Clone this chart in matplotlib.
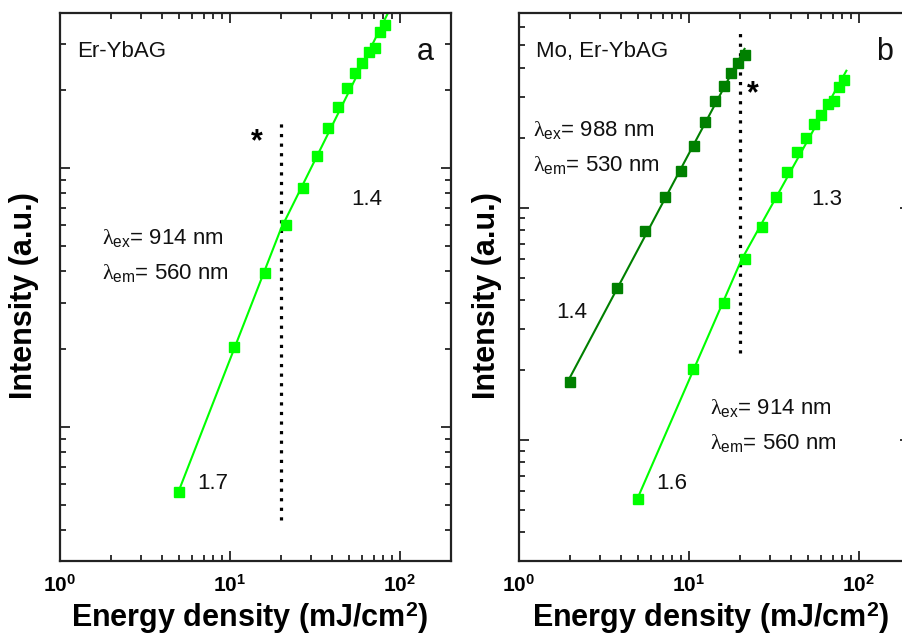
import numpy as np
import matplotlib
matplotlib.use("Agg")
import matplotlib.pyplot as plt
import matplotlib.transforms as mtransforms
from matplotlib.ticker import LogLocator, NullFormatter, FixedLocator

plt.rcParams['font.family'] = ['Liberation Sans', 'DejaVu Sans']
plt.rcParams['mathtext.fontset'] = 'custom'
plt.rcParams['mathtext.rm'] = 'Liberation Sans'
plt.rcParams['mathtext.bf'] = 'Liberation Sans:bold'
plt.rcParams['mathtext.it'] = 'Liberation Serif'

# ---------------- data ----------------
# panel a: Er-YbAG, excitation 914 nm, emission 560 nm
xa = [5, 10.5, 16, 21.5, 27, 32.5, 38, 43.5, 49, 54.5, 60, 65.5, 71, 76.5, 82]
ya = [0.56, 2.04, 3.93, 6.03, 8.37, 11.1, 14.3, 17.2, 20.4, 23.3, 25.4, 28.1, 29.0, 33.5, 35.7]

# panel b: Mo, Er-YbAG
xb_dark = [2, 3.75, 5.5, 7.25, 9, 10.75, 12.5, 14.25, 16, 17.75, 19.5, 21.25]
yb_dark = [1.78, 4.52, 7.96, 11.1, 14.4, 18.5, 23.5, 28.9, 33.6, 38.2, 42.2, 45.6]
xb_light = [5, 10.5, 16, 21.5, 27, 32.5, 38, 43.5, 49, 54.5, 60, 65.5, 71, 76.5, 82]
yb_light = [0.557, 2.02, 3.90, 6.03, 8.28, 11.1, 14.3, 17.3, 20.0, 23.0, 25.2, 28.1, 28.9, 33.2, 35.6]

threshold = 20.0          # dotted line position (mJ/cm^2)
dot_a = [0.437, 14.9]     # y-extent of dotted line, panel a
dot_b = [2.37, 56.8]      # y-extent of dotted line, panel b

xticks = [1, 10, 100]
xticklabels = [r'10$^{\mathbf{0}}$', r'10$^{\mathbf{1}}$', r'10$^{\mathbf{2}}$']

xlim = (1, 200)
ylim_a = (0.304, 39.6)
ylim_b = (0.301, 69)

LIGHT = '#00ff00'
DARK = '#008000'

def fit(x, y):
    x = np.asarray(x, float); y = np.asarray(y, float)
    return np.polyfit(np.log10(x), np.log10(y), 1)

def seg_lines(ax, x, y, color):
    x = np.asarray(x, float); y = np.asarray(y, float)
    lo = x < threshold
    hi = ~lo
    p1 = fit(x[lo], y[lo]); p2 = fit(x[hi], y[hi])
    xi = 10 ** ((p2[1] - p1[1]) / (p1[0] - p2[0]))
    xx1 = np.array([x.min(), xi])
    xx2 = np.array([xi, x.max() * 1.03])
    ax.plot(xx1, 10 ** np.polyval(p1, np.log10(xx1)), color=color, lw=1.5, zorder=2)
    ax.plot(xx2, 10 ** np.polyval(p2, np.log10(xx2)), color=color, lw=1.5, zorder=2)

def single_line(ax, x, y, color):
    x = np.asarray(x, float); y = np.asarray(y, float)
    p = fit(x, y)
    xx = np.array([x.min(), x.max()])
    ax.plot(xx, 10 ** np.polyval(p, np.log10(xx)), color=color, lw=1.5, zorder=2)

def style(ax, ylim):
    ax.set_xscale('log'); ax.set_yscale('log')
    ax.set_xlim(*xlim); ax.set_ylim(*ylim)
    ax.xaxis.set_major_locator(FixedLocator(xticks))
    ax.xaxis.set_major_formatter(NullFormatter())
    ax.xaxis.set_minor_locator(LogLocator(base=10, subs=np.arange(2, 10), numticks=20))
    ax.xaxis.set_minor_formatter(NullFormatter())
    ax.yaxis.set_major_locator(LogLocator(base=10, numticks=10))
    ax.yaxis.set_minor_locator(LogLocator(base=10, subs=np.arange(2, 10), numticks=20))
    ax.yaxis.set_major_formatter(NullFormatter())
    ax.yaxis.set_minor_formatter(NullFormatter())
    ax.tick_params(which='both', direction='in', top=True, right=True, width=1.3, color='#222222')
    ax.tick_params(which='major', length=7)
    ax.tick_params(which='minor', length=4)
    for s in ax.spines.values():
        s.set_linewidth(1.6); s.set_color('#222222')
    # x tick labels as bold texts under each major tick
    trans = mtransforms.blended_transform_factory(ax.transData, ax.transAxes)
    for v, lab in zip(xticks, xticklabels):
        ax.text(v, -0.0566, lab, transform=trans, ha='center', va='baseline',
                fontsize=15, fontweight='bold', color='black', clip_on=False)

fig = plt.figure(figsize=(9.02, 6.36), dpi=100)
W, H = 902.0, 636.0
axa = fig.add_axes([60 / W, (H - 561) / H, 391 / W, 548 / H])
axb = fig.add_axes([519 / W, (H - 561) / H, 391 / W, 548 / H])

style(axa, ylim_a)
style(axb, ylim_b)

MS = 7.5
# panel a
seg_lines(axa, xa, ya, LIGHT)
axa.plot(xa, ya, 's', color=LIGHT, ms=MS, zorder=3)
axa.plot([threshold, threshold], dot_a, color='black', lw=2.3, dashes=(1, 2), zorder=1)

tk = dict(fontsize=16, color='#111111')
axa.text(0.043, 0.929, 'Er-YbAG', transform=axa.transAxes, ha='left', va='center', **tk)
axa.text(0.934, 0.929, 'a', transform=axa.transAxes, ha='center', va='center', fontsize=22, color='#111111')
axa.text(0.785, 0.659, '1.4', transform=axa.transAxes, ha='center', va='center', **tk)
axa.text(0.107, 0.589, r'$\lambda_{\mathrm{ex}}$= 914 nm', transform=axa.transAxes, ha='left', va='center', **tk)
axa.text(0.107, 0.526, r'$\lambda_{\mathrm{em}}$= 560 nm', transform=axa.transAxes, ha='left', va='center', **tk)
axa.text(0.391, 0.142, '1.7', transform=axa.transAxes, ha='center', va='center', **tk)
axa.text(0.504, 0.765, '*', transform=axa.transAxes, ha='center', va='center', fontsize=22, fontweight='bold')

# panel b
single_line(axb, xb_dark, yb_dark, DARK)
seg_lines(axb, xb_light, yb_light, LIGHT)
axb.plot(xb_dark, yb_dark, 's', color=DARK, ms=MS, zorder=3)
axb.plot(xb_light, yb_light, 's', color=LIGHT, ms=MS, zorder=3)
axb.plot([threshold, threshold], dot_b, color='black', lw=2.3, dashes=(1, 2), zorder=1)

axb.text(0.043, 0.929, 'Mo, Er-YbAG', transform=axb.transAxes, ha='left', va='center', **tk)
axb.text(0.934, 0.929, 'b', transform=axb.transAxes, ha='center', va='center', fontsize=22, color='#111111')
axb.text(0.035, 0.786, r'$\lambda_{\mathrm{ex}}$= 988 nm', transform=axb.transAxes, ha='left', va='center', **tk)
axb.text(0.035, 0.723, r'$\lambda_{\mathrm{em}}$= 530 nm', transform=axb.transAxes, ha='left', va='center', **tk)
axb.text(0.788, 0.659, '1.3', transform=axb.transAxes, ha='center', va='center', **tk)
axb.text(0.136, 0.453, '1.4', transform=axb.transAxes, ha='center', va='center', **tk)
axb.text(0.488, 0.279, r'$\lambda_{\mathrm{ex}}$= 914 nm', transform=axb.transAxes, ha='left', va='center', **tk)
axb.text(0.488, 0.215, r'$\lambda_{\mathrm{em}}$= 560 nm', transform=axb.transAxes, ha='left', va='center', **tk)
axb.text(0.391, 0.142, '1.6', transform=axb.transAxes, ha='center', va='center', **tk)
axb.text(0.598, 0.852, '*', transform=axb.transAxes, ha='center', va='center', fontsize=22, fontweight='bold')

# axis labels
xl = r'Energy density (mJ/cm$^{\mathbf{2}}$)'
fig.text(250 / W, 1 - 627 / H, xl, ha='center', va='baseline', fontsize=22, fontweight='bold')
fig.text(711 / W, 1 - 627 / H, xl, ha='center', va='baseline', fontsize=22, fontweight='bold')
fig.text(24 / W, 1 - 296 / H, 'Intensity (a.u.)', rotation=90, ha='center', va='center', fontsize=22, fontweight='bold')
fig.text(487 / W, 1 - 296 / H, 'Intensity (a.u.)', rotation=90, ha='center', va='center', fontsize=22, fontweight='bold')

fig.savefig('out.png', dpi=100)
